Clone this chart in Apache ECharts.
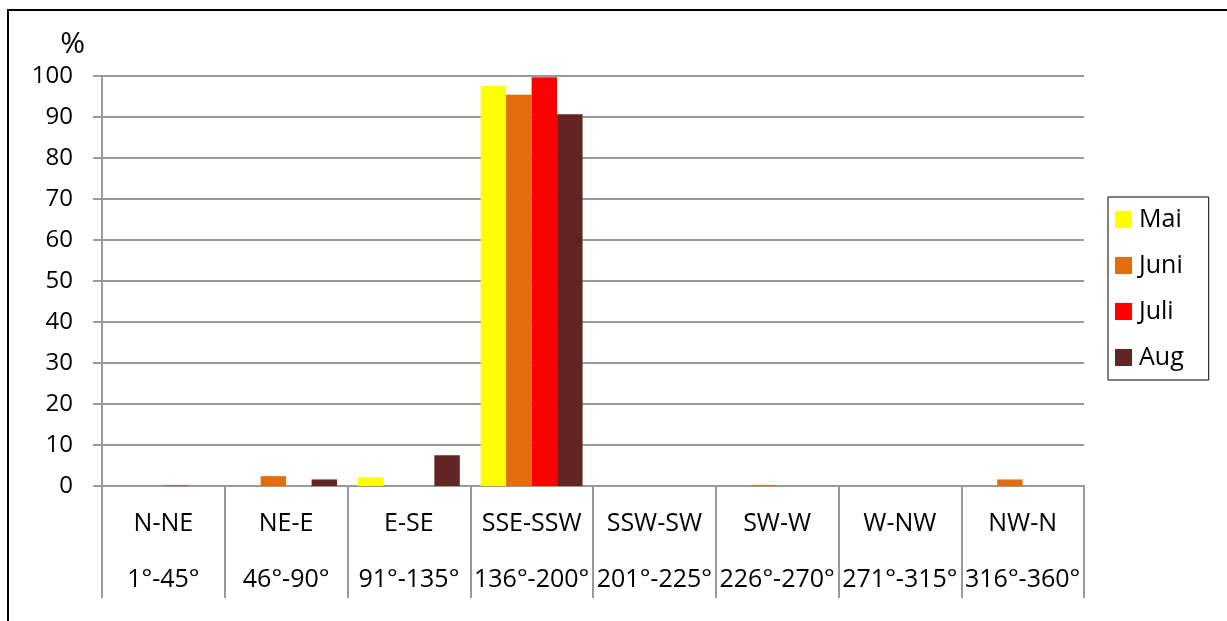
<!DOCTYPE html>
<html>
<head>
<meta charset="utf-8">
<script src="https://cdn.jsdelivr.net/npm/echarts@6/dist/echarts.min.js"></script>
<style>
html, body { margin: 0; padding: 0; background: #fff; }
#chart { width: 1227px; height: 621px; }
</style>
</head>
<body>
<div id="chart"></div>
<script>
// Windrichtung, Anteil in %
const sectors = ['N-NE', 'NE-E', 'E-SE', 'SSE-SSW', 'SSW-SW', 'SW-W', 'W-NW', 'NW-N']
const degrees = ['1°-45°', '46°-90°', '91°-135°', '136°-200°', '201°-225°', '226°-270°', '271°-315°', '316°-360°']
const mai  = [0, 0, 2.1, 97.6, 0, 0, 0, 0]
const juni = [0, 2.4, 0, 95.4, 0, 0.2, 0, 1.6]
const juli = [0.1, 0, 0, 99.7, 0, 0, 0, 0]
const aug  = [0, 1.6, 7.5, 90.7, 0, 0, 0, 0]
const yTicks = [0, 10, 20, 30, 40, 50, 60, 70, 80, 90, 100]

const font = '"Open Sans", sans-serif'
const gray = '#9a9a9a'

let categories = sectors.map((s, i) => s + '\n' + degrees[i])

let myChart = echarts.init(document.getElementById('chart'))
let bar = (name, data, color) => ({
    name: name,
    type: 'bar',
    data: data,
    barGap: '0%',
    barCategoryGap: '17%',
    itemStyle: { color: color },
    animation: false
})

let option = {
    graphic: [{
        type: 'rect',
        shape: { x: 8, y: 10, width: 1240, height: 700 },
        style: { fill: 'none', stroke: '#000', lineWidth: 2 },
        silent: true
    }],
    grid: { left: 102, right: 143, top: 76, bottom: 135 },
    legend: {
        orient: 'vertical',
        left: 1108,
        top: 197,
        padding: [10, 25, 10, 7],
        itemGap: 21,
        itemWidth: 17,
        itemHeight: 17,
        borderColor: '#000',
        borderWidth: 1,
        icon: 'rect',
        textStyle: { fontFamily: font, fontSize: 25, color: '#000', lineHeight: 24, padding: [0, 0, 0, 2] },
        data: ['Mai', 'Juni', 'Juli', 'Aug']
    },
    xAxis: {
        type: 'category',
        data: categories,
        axisLine: { lineStyle: { color: gray, width: 2 } },
        axisTick: { show: true, length: 112, lineStyle: { color: gray, width: 2 } },
        axisLabel: {
            interval: 0,
            margin: 10,
            fontFamily: font,
            fontSize: 25,
            color: '#000',
            lineHeight: 56
        }
    },
    yAxis: {
        type: 'value',
        min: yTicks[0],
        max: yTicks[yTicks.length - 1],
        interval: 10,
        name: '%',
        nameLocation: 'end',
        nameGap: 17,
        nameTextStyle: { fontFamily: font, fontSize: 30, color: '#000', align: 'right', padding: [0, 17, 0, 0] },
        axisLine: { show: true, lineStyle: { color: gray, width: 2 } },
        axisTick: { show: true, length: 9, lineStyle: { color: gray, width: 2 } },
        axisLabel: { margin: 29, fontFamily: font, fontSize: 24, color: '#000' },
        splitLine: { lineStyle: { color: gray, width: 2 } }
    },
    series: [
        bar('Mai', mai, '#FFFF00'),
        bar('Juni', juni, '#E46C0A'),
        bar('Juli', juli, '#FF0000'),
        bar('Aug', aug, '#632523')
    ]
}
myChart.setOption(option)
</script>
</body>
</html>
